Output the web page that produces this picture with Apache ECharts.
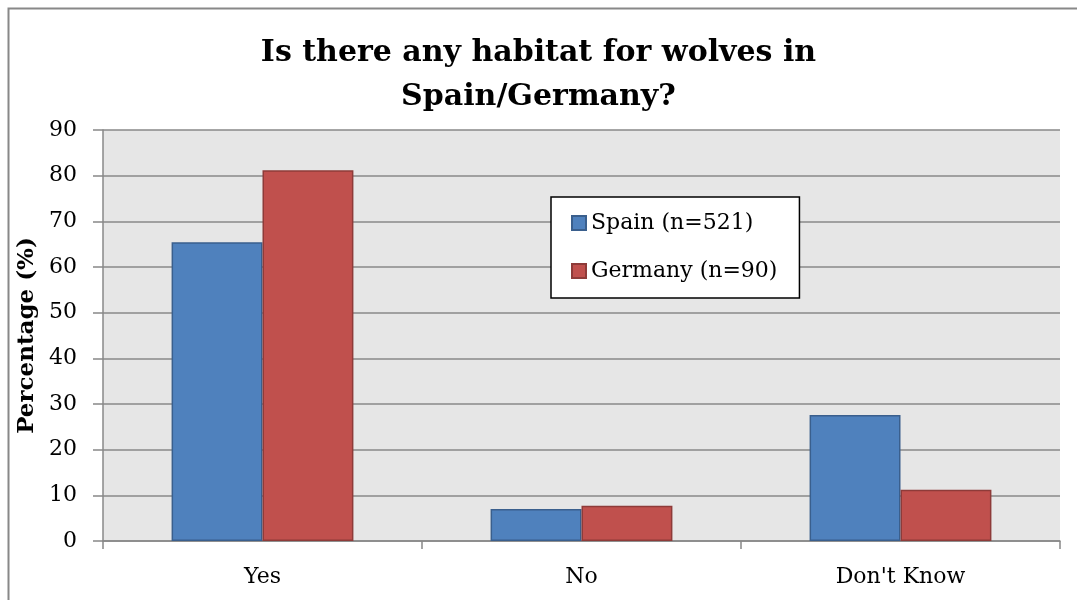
<!DOCTYPE html>
<html>
<head>
<meta charset="utf-8">
<script src="https://cdn.jsdelivr.net/npm/echarts@6/dist/echarts.min.js"></script>
<style>
  html, body { margin: 0; padding: 0; background: #fff; }
  #main { width: 1077px; height: 600px; }
</style>
</head>
<body>
<div id="main"></div>
<script>
// 数据
var categories = ['Yes', 'No', "Don't Know"];
var spainValues = [65.4, 7.0, 27.6];
var germanyValues = [81.2, 7.7, 11.2];
var seriesNames = ['Spain (n=521)', 'Germany (n=90)'];

var FONT = 'DejaVu Serif';

var chart = echarts.init(document.getElementById('main'));

var opt = {
    backgroundColor: '#fff',
    animation: false,
    textStyle: { fontFamily: FONT },
    graphic: [{
        type: 'rect',
        left: 6, top: 6,
        shape: { width: 1100, height: 620 },
        style: { fill: 'none', stroke: '#888', lineWidth: 2 },
        silent: true
    }],
    title: {
        text: 'Is there any habitat for wolves in\nSpain/Germany?',
        left: 'center',
        top: 26,
        textStyle: {
            fontFamily: FONT,
            fontSize: 30,
            fontWeight: 'bold',
            color: '#000',
            lineHeight: 44
        }
    },
    legend: {
        orient: 'vertical',
        left: 551,
        top: 197,
        data: seriesNames,
        backgroundColor: '#fff',
        borderColor: '#000',
        borderWidth: 1.5,
        borderRadius: 0,
        padding: [15, 22, 16, 20],
        itemGap: 26,
        itemWidth: 14,
        itemHeight: 14,
        icon: 'rect',
        textStyle: { fontFamily: FONT, fontSize: 22, color: '#000' }
    },
    grid: {
        left: 103,
        right: 17,
        top: 130,
        bottom: 59,
        show: true,
        backgroundColor: '#e6e6e6',
        borderWidth: 0
    },
    xAxis: {
        type: 'category',
        data: categories,
        axisLine: { show: true, lineStyle: { color: '#888', width: 1.5 } },
        axisTick: { show: true, length: 8, alignWithLabel: false, lineStyle: { color: '#888', width: 1.5 } },
        axisLabel: { fontFamily: FONT, fontSize: 22, color: '#000', margin: 25 }
    },
    yAxis: {
        type: 'value',
        min: 0,
        max: 90,
        interval: 10,
        name: 'Percentage (%)',
        nameLocation: 'middle',
        nameGap: 60,
        nameTextStyle: { fontFamily: FONT, fontSize: 23, fontWeight: 'bold', color: '#000' },
        axisLine: { show: true, lineStyle: { color: '#888', width: 1.5 } },
        axisTick: { show: true, length: 10, lineStyle: { color: '#888', width: 1.5 } },
        axisLabel: { fontFamily: FONT, fontSize: 22, color: '#000', margin: 26 },
        splitLine: { show: true, lineStyle: { color: '#888', width: 1.5 } }
    },
    series: [
        {
            name: seriesNames[0],
            type: 'bar',
            data: spainValues,
            barGap: '0%',
            barCategoryGap: '43%',
            itemStyle: { color: '#4f81bd', borderColor: '#3a5f8d', borderWidth: 1.5 }
        },
        {
            name: seriesNames[1],
            type: 'bar',
            data: germanyValues,
            itemStyle: { color: '#c0504d', borderColor: '#8e3b39', borderWidth: 1.5 }
        }
    ]
};

chart.setOption(opt);

window.addEventListener('resize', function() {
    chart.resize();
});
</script>
</body>
</html>
